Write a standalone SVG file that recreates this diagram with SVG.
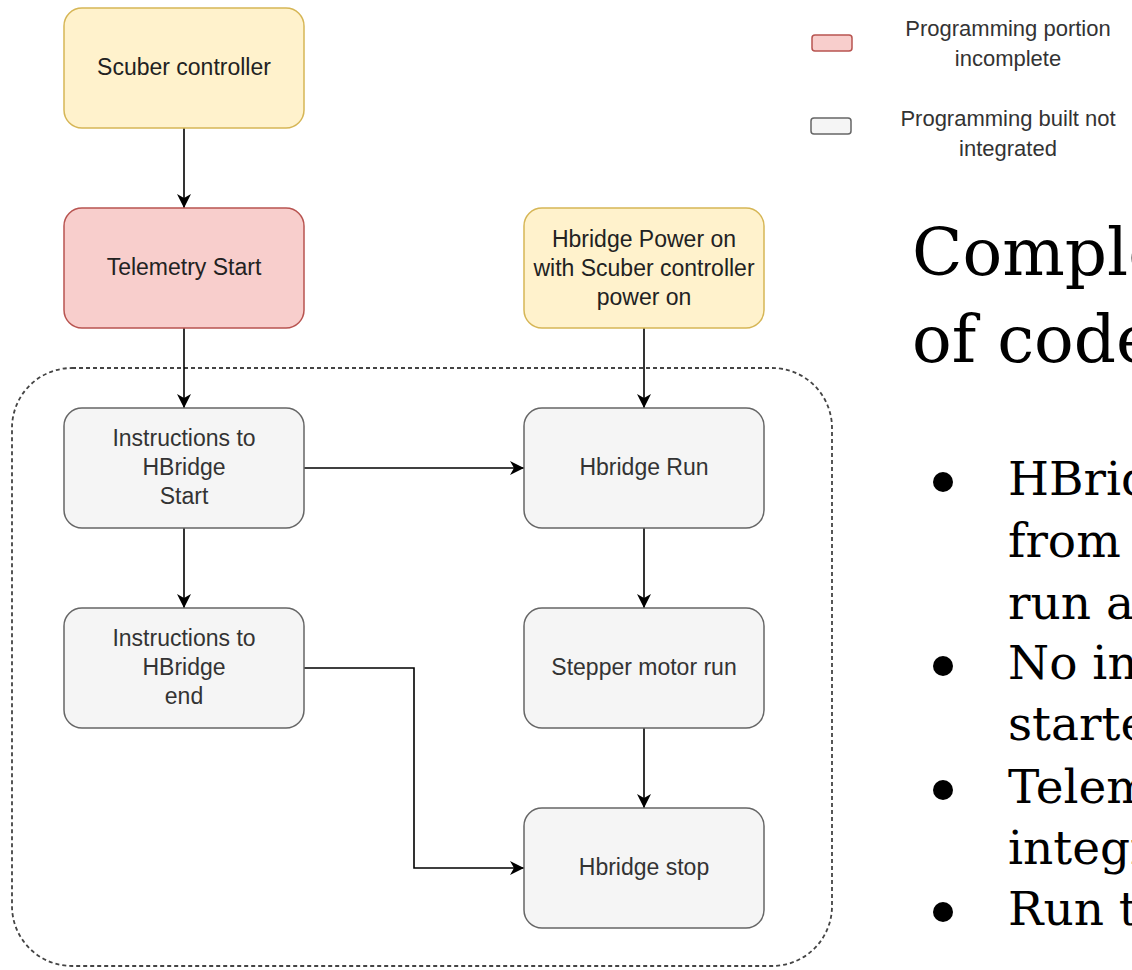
<svg xmlns="http://www.w3.org/2000/svg" width="1132" height="970" viewBox="0 0 1132 970">
  <defs>
    <marker id="arrow" markerUnits="userSpaceOnUse" markerWidth="16" markerHeight="14" refX="14" refY="7" orient="auto">
      <path d="M0,0 L14,7 L0,14 L4,7 Z" fill="#000"/>
    </marker>
    <style>
      .box { stroke-width: 1.5; }
      .yellow { fill: #fff2cc; stroke: #d6b656; }
      .red { fill: #f8cecc; stroke: #b85450; }
      .gray { fill: #f5f5f5; stroke: #666666; }
      .lbl { font-family: "Liberation Sans", Arial, sans-serif; font-size: 23px; text-anchor: middle; }
      .dark { fill: #222; }
      .mid { fill: #333; }
      .legend { font-family: "Liberation Sans", Arial, sans-serif; font-size: 22px; text-anchor: middle; fill: #333; }
      .edge { fill: none; stroke: #000; stroke-width: 1.6; marker-end: url(#arrow); }
      .serif { font-family: "DejaVu Serif", "Liberation Serif", serif; fill: #000; }
    </style>
  </defs>

  <rect width="1132" height="970" fill="#fff"/>

  <!-- dashed group boundary -->
  <rect id="group-boundary" x="12" y="368" width="820" height="598" rx="60" ry="60" fill="none" stroke="#444" stroke-width="1.8" stroke-dasharray="4 3"/>

  <!-- connectors -->
  <g id="connectors">
    <path class="edge" d="M184,128 L184,208"/>
    <path class="edge" d="M184,328 L184,408"/>
    <path class="edge" d="M644,328 L644,408"/>
    <path class="edge" d="M304,468 L524,468"/>
    <path class="edge" d="M184,528 L184,608"/>
    <path class="edge" d="M644,528 L644,608"/>
    <path class="edge" d="M644,728 L644,808"/>
    <path class="edge" d="M304,668 L414,668 L414,868 L524,868"/>
  </g>

  <!-- nodes -->
  <g id="scuber-controller">
    <rect class="box yellow" x="64" y="8" width="240" height="120" rx="18"/>
    <text class="lbl dark" x="184" y="75">Scuber controller</text>
  </g>
  <g id="telemetry-start">
    <rect class="box red" x="64" y="208" width="240" height="120" rx="18"/>
    <text class="lbl dark" x="184" y="275">Telemetry Start</text>
  </g>
  <g id="hbridge-power">
    <rect class="box yellow" x="524" y="208" width="240" height="120" rx="18"/>
    <text class="lbl dark" x="644" y="247">Hbridge Power on</text>
    <text class="lbl dark" x="644" y="276">with Scuber controller</text>
    <text class="lbl dark" x="644" y="305">power on</text>
  </g>
  <g id="instructions-start">
    <rect class="box gray" x="64" y="408" width="240" height="120" rx="18"/>
    <text class="lbl mid" x="184" y="446">Instructions to</text>
    <text class="lbl mid" x="184" y="475">HBridge</text>
    <text class="lbl mid" x="184" y="504">Start</text>
  </g>
  <g id="hbridge-run">
    <rect class="box gray" x="524" y="408" width="240" height="120" rx="18"/>
    <text class="lbl mid" x="644" y="475">Hbridge Run</text>
  </g>
  <g id="instructions-end">
    <rect class="box gray" x="64" y="608" width="240" height="120" rx="18"/>
    <text class="lbl mid" x="184" y="646">Instructions to</text>
    <text class="lbl mid" x="184" y="675">HBridge</text>
    <text class="lbl mid" x="184" y="704">end</text>
  </g>
  <g id="stepper-motor-run">
    <rect class="box gray" x="524" y="608" width="240" height="120" rx="18"/>
    <text class="lbl mid" x="644" y="675">Stepper motor run</text>
  </g>
  <g id="hbridge-stop">
    <rect class="box gray" x="524" y="808" width="240" height="120" rx="18"/>
    <text class="lbl mid" x="644" y="875">Hbridge stop</text>
  </g>

  <!-- legend -->
  <g id="legend">
    <rect class="box red" x="812" y="35" width="40" height="16" rx="3"/>
    <text class="legend" x="1008" y="36">Programming portion</text>
    <text class="legend" x="1008" y="66">incomplete</text>
    <rect class="box gray" x="811" y="118" width="40" height="16" rx="3"/>
    <text class="legend" x="1008" y="126">Programming built not</text>
    <text class="legend" x="1008" y="156">integrated</text>
  </g>

  <!-- notes on the right -->
  <g id="notes">
    <text class="serif" x="912" y="275" font-size="66">Comple</text>
    <text class="serif" x="912" y="362" font-size="66">of code</text>
    <g font-size="47" class="serif">
      <circle cx="943" cy="482" r="10"/>
      <text class="serif" x="1008" y="495">HBrid</text>
      <text class="serif" x="1008" y="557">from</text>
      <text class="serif" x="1008" y="619">run a</text>
      <circle cx="943" cy="666" r="10"/>
      <text class="serif" x="1008" y="679">No in</text>
      <text class="serif" x="1008" y="740">starte</text>
      <circle cx="943" cy="790" r="10"/>
      <text class="serif" x="1008" y="803">Telem</text>
      <text class="serif" x="1008" y="864">integr</text>
      <circle cx="943" cy="912" r="10"/>
      <text class="serif" x="1008" y="925">Run t</text>
    </g>
  </g>
</svg>
